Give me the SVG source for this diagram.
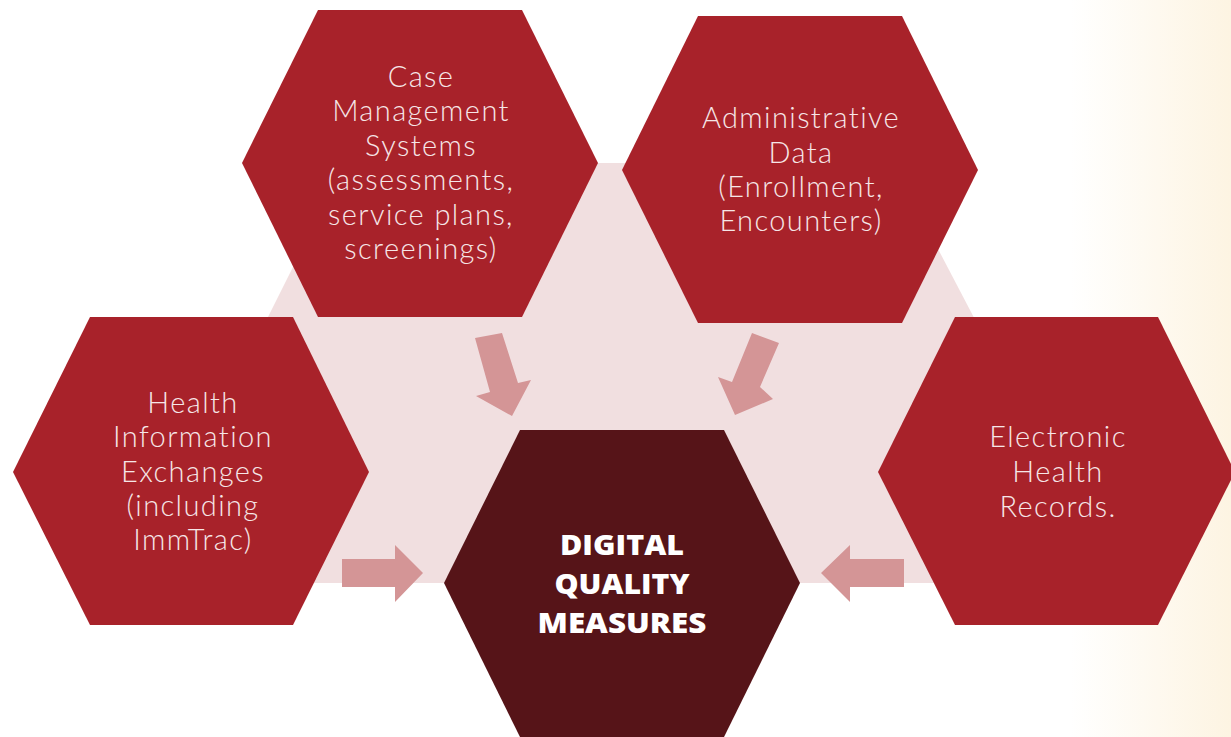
<svg xmlns="http://www.w3.org/2000/svg" width="1231" height="737" viewBox="0 0 1231 737">
<defs>
<linearGradient id="bg" x1="0" y1="0" x2="1" y2="0" gradientUnits="objectBoundingBox">
<stop offset="0" stop-color="#ffffff"/>
<stop offset="1" stop-color="#fdf4e2"/>
</linearGradient>
<style>
.hex{fill:#a8222a}
.core{fill:#561418}
.lbl{font-family:Lato,"Liberation Sans",sans-serif;font-weight:300;font-size:29px;letter-spacing:1.4px;fill:#f6e6e7;text-anchor:middle}
.bold{font-family:"Open Sans","Liberation Sans",sans-serif;font-weight:800;font-size:28px;fill:#ffffff;text-anchor:middle}
.arrow{fill:#d49596}
</style>
</defs>
<rect x="0" y="0" width="1231" height="737" fill="#ffffff"/>
<rect x="1070" y="0" width="161" height="737" fill="url(#bg)"/>
<polygon points="345,163 893,163 1113,583 135,583" fill="#f1dfe0"/>
<g id="connectors">
<polygon class="arrow" points="342,559 395,559 395,545 423,573 395,602 395,587 342,587"/>
<polygon class="arrow" points="904,559 850,559 850,545 821,573 850,602 850,587 904,587"/>
<polygon class="arrow" points="475,338 502,333 518,383 531,380 512,416 476,396 490,392"/>
<polygon class="arrow" points="752,333 779,343 760,387 773,399 735,415 718,377 732,382"/>
</g>
<g id="case">
<polygon class="hex" points="318,10 522,10 598,163 522,317 318,317 242,163"/>
<text class="lbl"><tspan x="421" y="87">Case</tspan><tspan x="421" y="121">Management</tspan><tspan x="421" y="156">Systems</tspan><tspan x="421" y="190">(assessments,</tspan><tspan x="421" y="225">service plans,</tspan><tspan x="421" y="259">screenings)</tspan></text>
</g>
<g id="admin">
<polygon class="hex" points="698,16 902,16 978,170 902,323 698,323 622,170"/>
<text class="lbl"><tspan x="801" y="128">Administrative</tspan><tspan x="801" y="163">Data</tspan><tspan x="801" y="197">(Enrollment,</tspan><tspan x="801" y="231">Encounters)</tspan></text>
</g>
<g id="hie">
<polygon class="hex" points="90,317 293,317 369,472 293,625 90,625 13,472"/>
<text class="lbl"><tspan x="193" y="413">Health</tspan><tspan x="193" y="447">Information</tspan><tspan x="193" y="482">Exchanges</tspan><tspan x="193" y="516">(including</tspan><tspan x="193" y="550">ImmTrac)</tspan></text>
</g>
<g id="ehr">
<polygon class="hex" points="955,317 1158,317 1235,472 1158,625 955,625 878,472"/>
<text class="lbl"><tspan x="1058" y="447">Electronic</tspan><tspan x="1058" y="482">Health</tspan><tspan x="1058" y="517">Records.</tspan></text>
</g>
<g id="dqm">
<polygon class="core" points="520,430 724,430 800,583 724,737 520,737 444,583"/>
<text class="bold" x="622" y="555" textLength="124" lengthAdjust="spacingAndGlyphs">DIGITAL</text>
<text class="bold" x="622" y="594" textLength="135" lengthAdjust="spacingAndGlyphs">QUALITY</text>
<text class="bold" x="622" y="633" textLength="169" lengthAdjust="spacingAndGlyphs">MEASURES</text>
</g>
</svg>
